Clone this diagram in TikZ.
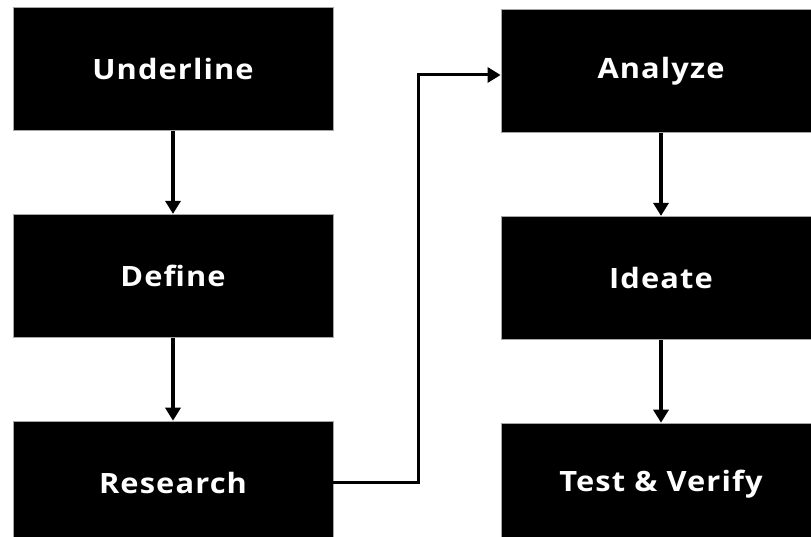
\documentclass[tikz,border=0pt]{standalone}
\usepackage{fontspec}
\setmainfont{Open Sans}
\newfontfamily\boxfont[LetterSpace=4,FakeStretch=1.1]{Open Sans}
\usepackage{tikz}
\usetikzlibrary{positioning,arrows.meta,calc}

\begin{document}
\begin{tikzpicture}[
  x=1pt, y=-1pt,
  node distance=83pt and 10mm,
  box/.style={draw=gray!70, line width=0.8pt, fill=black, text=white, minimum width=320pt, minimum height=123pt, align=center, font=\boxfont\bfseries\fontsize{28}{34}\selectfont},
  arr/.style={-{Triangle[width=15pt,length=13pt]}, line width=3.5pt}
]
\useasboundingbox (0,0) rectangle (811,537);
\clip (0,0) rectangle (811,537);

\node[box] (underline) at (173,69) {Underline};
\node[box, below=of underline] (define) {Define};
\node[box, below=of define] (research) {Research};

\node[box] (analyze) at (661,71) {Analyze};
\node[box, below=of analyze] (ideate) {Ideate};
\node[box, below=of ideate] (test) {Test \& Verify};

\draw[arr] (underline) -- (define);
\draw[arr] (define) -- (research);
\draw[arr] (analyze) -- (ideate);
\draw[arr] (ideate) -- (test);
\draw[arr, line width=3pt] (research.east) -- ++(85,0) |- ($(analyze.west)+(0,4)$);
\end{tikzpicture}
\end{document}
